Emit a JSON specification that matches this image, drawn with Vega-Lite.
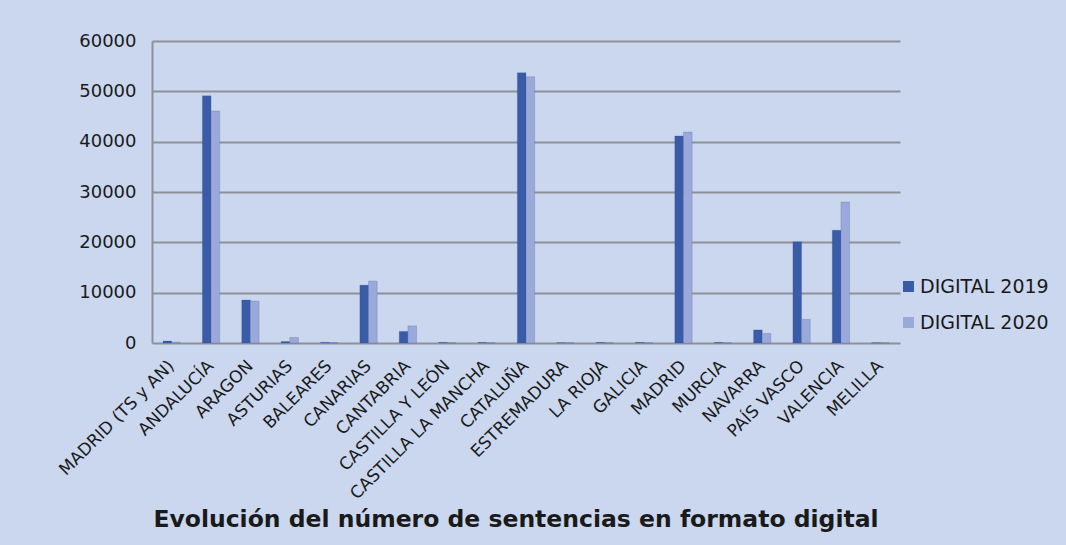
{
  "$schema": "https://vega.github.io/schema/vega-lite/v6.json",
  "autosize": "none",
  "width": 748,
  "height": 302,
  "padding": {"left": 152, "top": 41, "right": 166, "bottom": 202},
  "background": "#cad7ee",
  "title": {"text": "Evolución del número de sentencias en formato digital", "orient": "bottom", "offset": 6, "anchor": "middle", "dx": -10, "font": "DejaVu Sans", "fontSize": 23.5, "fontWeight": "bold", "color": "#1a1a1a"},
  "data": {"values": [
    {"c": "MADRID (TS y AN)", "s": "DIGITAL 2019", "v": 400},
    {"c": "MADRID (TS y AN)", "s": "DIGITAL 2020", "v": 200},
    {"c": "ANDALUCÍA", "s": "DIGITAL 2019", "v": 49100},
    {"c": "ANDALUCÍA", "s": "DIGITAL 2020", "v": 46100},
    {"c": "ARAGON", "s": "DIGITAL 2019", "v": 8550},
    {"c": "ARAGON", "s": "DIGITAL 2020", "v": 8350},
    {"c": "ASTURIAS", "s": "DIGITAL 2019", "v": 300},
    {"c": "ASTURIAS", "s": "DIGITAL 2020", "v": 1100},
    {"c": "BALEARES", "s": "DIGITAL 2019", "v": 120},
    {"c": "BALEARES", "s": "DIGITAL 2020", "v": 100},
    {"c": "CANARIAS", "s": "DIGITAL 2019", "v": 11500},
    {"c": "CANARIAS", "s": "DIGITAL 2020", "v": 12300},
    {"c": "CANTABRIA", "s": "DIGITAL 2019", "v": 2300},
    {"c": "CANTABRIA", "s": "DIGITAL 2020", "v": 3400},
    {"c": "CASTILLA Y LEÓN", "s": "DIGITAL 2019", "v": 120},
    {"c": "CASTILLA Y LEÓN", "s": "DIGITAL 2020", "v": 60},
    {"c": "CASTILLA LA MANCHA", "s": "DIGITAL 2019", "v": 120},
    {"c": "CASTILLA LA MANCHA", "s": "DIGITAL 2020", "v": 60},
    {"c": "CATALUÑA", "s": "DIGITAL 2019", "v": 53700},
    {"c": "CATALUÑA", "s": "DIGITAL 2020", "v": 52900},
    {"c": "ESTREMADURA", "s": "DIGITAL 2019", "v": 60},
    {"c": "ESTREMADURA", "s": "DIGITAL 2020", "v": 50},
    {"c": "LA RIOJA", "s": "DIGITAL 2019", "v": 120},
    {"c": "LA RIOJA", "s": "DIGITAL 2020", "v": 60},
    {"c": "GALICIA", "s": "DIGITAL 2019", "v": 120},
    {"c": "GALICIA", "s": "DIGITAL 2020", "v": 60},
    {"c": "MADRID", "s": "DIGITAL 2019", "v": 41150},
    {"c": "MADRID", "s": "DIGITAL 2020", "v": 41900},
    {"c": "MURCIA", "s": "DIGITAL 2019", "v": 120},
    {"c": "MURCIA", "s": "DIGITAL 2020", "v": 60},
    {"c": "NAVARRA", "s": "DIGITAL 2019", "v": 2600},
    {"c": "NAVARRA", "s": "DIGITAL 2020", "v": 1900},
    {"c": "PAÍS VASCO", "s": "DIGITAL 2019", "v": 20100},
    {"c": "PAÍS VASCO", "s": "DIGITAL 2020", "v": 4700},
    {"c": "VALENCIA", "s": "DIGITAL 2019", "v": 22400},
    {"c": "VALENCIA", "s": "DIGITAL 2020", "v": 28000},
    {"c": "MELILLA", "s": "DIGITAL 2019", "v": 60},
    {"c": "MELILLA", "s": "DIGITAL 2020", "v": 50}
  ]},
  "mark": {"type": "bar", "stroke": "#2d4a88", "strokeWidth": 0.5, "strokeOpacity": 0.4},
  "encoding": {
    "x": {"field": "c", "type": "nominal", "sort": null, "title": null,
      "scale": {"paddingInner": 0.56, "paddingOuter": 0.28},
      "axis": {"labelAngle": -45, "labelAlign": "right", "labelBaseline": "middle", "labelFont": "DejaVu Sans", "labelFontSize": 17, "labelColor": "#1a1a1a", "ticks": false, "domain": false, "labelPadding": 20, "labelDx": 6, "labelLimit": 300}},
    "xOffset": {"field": "s", "type": "nominal"},
    "y": {"field": "v", "type": "quantitative", "title": null,
      "scale": {"domain": [0, 60000]},
      "axis": {"values": [0, 10000, 20000, 30000, 40000, 50000, 60000], "labelFont": "DejaVu Sans", "labelFontSize": 18, "labelColor": "#1a1a1a", "labelPadding": 16, "ticks": false, "domain": true, "domainColor": "#8e9297", "domainWidth": 2, "gridColor": "#8e9297", "gridWidth": 2, "format": "d"}},
    "color": {"field": "s", "type": "nominal", "title": null,
      "scale": {"domain": ["DIGITAL 2019", "DIGITAL 2020"], "range": ["#3a5ca8", "#9aa9da"]},
      "legend": {"orient": "none", "legendX": 747, "legendY": 236, "symbolType": "square", "symbolSize": 120, "symbolStrokeWidth": 0, "labelFont": "DejaVu Sans", "labelFontSize": 19, "labelColor": "#1a1a1a", "rowPadding": 16, "labelOffset": 2}}
  },
  "config": {"view": {"stroke": null}}
}
